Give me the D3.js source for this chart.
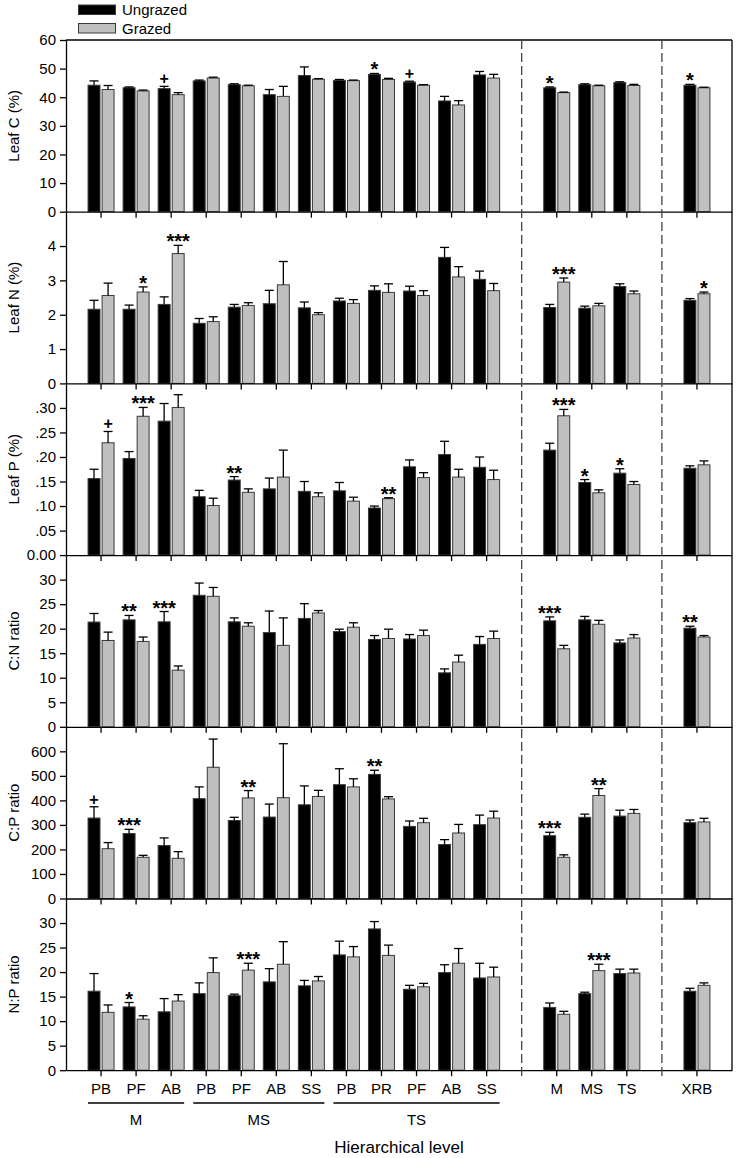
<!DOCTYPE html>
<html>
<head>
<meta charset="utf-8">
<script src="https://cdn.jsdelivr.net/npm/d3@7"></script>
<style>
body { margin: 0; background: #fff; }
svg text { font-family: Arial, "Liberation Sans", sans-serif; fill: #000; }
</style>
</head>
<body>
<svg id="chart" width="736" height="1158"></svg>
<script>
// categories along the x axis
var siteLabels = ['PB','PF','AB','PB','PF','AB','SS','PB','PR','PF','AB','SS','M','MS','TS','XRB'];
var siteGroups = ['M','M','M','MS','MS','MS','MS','TS','TS','TS','TS','TS','L','L','L','R'];
var groupNames = ['M','MS','TS'];

// Leaf C (%)
var leafC_U   = [44.2, 43.3, 43.0, 45.7, 44.4, 40.9, 47.6, 45.9, 48.0, 45.3, 38.7, 47.8, 43.3, 44.4, 45.1, 44.2];
var leafC_Use = [1.5, 0.3, 0.8, 0.3, 0.3, 1.8, 3.0, 0.3, 0.3, 0.3, 1.6, 1.2, 0.3, 0.3, 0.3, 0.3];
var leafC_G   = [42.7, 42.2, 40.9, 46.7, 44.0, 40.3, 46.3, 45.8, 46.2, 44.2, 37.3, 46.7, 41.6, 44.0, 44.1, 43.3];
var leafC_Gse = [1.4, 0.3, 0.7, 0.3, 0.2, 3.5, 0.2, 0.2, 0.4, 0.2, 1.5, 1.3, 0.2, 0.2, 0.4, 0.2];
var leafC_sig = ['', '', '+', '', '', '', '', '', '*', '+', '', '', '*', '', '', '*'];
var leafC_on  = ['', '', 'U', '', '', '', '', '', 'U', 'U', '', '', 'U', '', '', 'U'];

// Leaf N (%)
var leafN_U   = [2.16, 2.16, 2.30, 1.75, 2.22, 2.32, 2.20, 2.40, 2.71, 2.69, 3.67, 3.03, 2.21, 2.19, 2.82, 2.42];
var leafN_Use = [0.26, 0.12, 0.22, 0.14, 0.08, 0.39, 0.17, 0.08, 0.13, 0.14, 0.29, 0.24, 0.09, 0.06, 0.08, 0.05];
var leafN_G   = [2.56, 2.66, 3.78, 1.80, 2.27, 2.87, 2.00, 2.33, 2.65, 2.56, 3.10, 2.70, 2.95, 2.26, 2.61, 2.61];
var leafN_Gse = [0.36, 0.15, 0.24, 0.14, 0.08, 0.68, 0.06, 0.11, 0.25, 0.14, 0.30, 0.21, 0.12, 0.07, 0.08, 0.05];
var leafN_sig = ['', '*', '***', '', '', '', '', '', '', '', '', '', '***', '', '', '*'];
var leafN_on  = ['', 'G', 'G', '', '', '', '', '', '', '', '', '', 'G', '', '', 'G'];

// Leaf P (%)
var leafP_U   = [0.156, 0.197, 0.273, 0.119, 0.153, 0.135, 0.130, 0.131, 0.096, 0.180, 0.205, 0.179, 0.214, 0.148, 0.167, 0.177];
var leafP_Use = [0.019, 0.014, 0.036, 0.013, 0.007, 0.022, 0.020, 0.017, 0.004, 0.014, 0.027, 0.021, 0.014, 0.006, 0.009, 0.005];
var leafP_G   = [0.229, 0.283, 0.301, 0.101, 0.128, 0.159, 0.119, 0.110, 0.115, 0.158, 0.159, 0.154, 0.284, 0.127, 0.144, 0.184];
var leafP_Gse = [0.023, 0.018, 0.026, 0.015, 0.007, 0.055, 0.008, 0.008, 0.002, 0.010, 0.016, 0.019, 0.013, 0.006, 0.006, 0.008];
var leafP_sig = ['+', '***', '', '', '**', '', '', '', '**', '', '', '', '***', '*', '*', ''];
var leafP_on  = ['G', 'G', '', '', 'U', '', '', '', 'G', '', '', '', 'G', 'U', 'U', ''];

// C:N ratio
var cn_U   = [21.35, 21.8, 21.4, 26.8, 21.4, 19.2, 22.1, 19.4, 17.8, 17.9, 11.0, 16.8, 21.6, 21.8, 17.1, 20.1];
var cn_Use = [1.75, 0.9, 2.1, 2.5, 0.8, 4.4, 3.0, 0.5, 0.8, 0.9, 0.8, 1.6, 0.8, 0.7, 0.6, 0.4];
var cn_G   = [17.6, 17.4, 11.55, 26.6, 20.5, 16.6, 23.2, 20.3, 18.0, 18.6, 13.2, 18.0, 15.9, 20.9, 18.1, 18.3];
var cn_Gse = [1.7, 0.9, 0.85, 1.8, 0.7, 5.6, 0.5, 0.9, 1.9, 1.1, 1.4, 1.5, 0.7, 0.8, 0.7, 0.3];
var cn_sig = ['', '**', '***', '', '', '', '', '', '', '', '', '', '***', '', '', '**'];
var cn_on  = ['', 'U', 'U', '', '', '', '', '', '', '', '', '', 'U', '', '', 'U'];

// C:P ratio
var cp_U   = [328, 265, 216, 407, 318, 332, 382, 464, 506, 294, 220, 301, 256, 331, 336, 309];
var cp_Use = [46, 17, 31, 48, 13, 53, 77, 65, 17, 22, 20, 39, 14, 13, 24, 11];
var cp_G   = [203, 168, 164, 535, 410, 411, 416, 455, 406, 309, 267, 328, 168, 420, 347, 312];
var cp_Gse = [25, 8, 27, 115, 30, 220, 25, 33, 9, 18, 35, 28, 10, 28, 16, 15];
var cp_sig = ['+', '***', '', '', '**', '', '', '', '**', '', '', '', '***', '**', '', ''];
var cp_on  = ['U', 'U', '', '', 'G', '', '', '', 'U', '', '', '', 'U', 'G', '', ''];

// N:P ratio
var np_U   = [16.1, 12.9, 11.9, 15.6, 15.2, 18.0, 17.2, 23.5, 28.8, 16.5, 19.9, 18.8, 12.8, 15.6, 19.7, 16.1];
var np_Use = [3.6, 0.9, 2.7, 2.2, 0.3, 2.7, 1.1, 2.8, 1.5, 0.8, 1.6, 3.0, 0.9, 0.3, 0.9, 0.6];
var np_G   = [11.8, 10.4, 14.1, 19.9, 20.4, 21.6, 18.2, 23.1, 23.4, 17.0, 21.8, 19.0, 11.4, 20.3, 19.8, 17.3];
var np_Gse = [1.5, 0.7, 1.3, 3.0, 1.4, 4.6, 0.9, 2.1, 2.1, 0.7, 3.0, 2.0, 0.6, 1.3, 0.8, 0.5];
var np_sig = ['', '*', '', '', '***', '', '', '', '', '', '', '', '', '***', '', ''];
var np_on  = ['', 'U', '', '', 'G', '', '', '', '', '', '', '', '', 'G', '', ''];

// panel titles, y domain maxima and tick labels
var panelTitles = ['Leaf C (%)', 'Leaf N (%)', 'Leaf P (%)', 'C:N ratio', 'C:P ratio', 'N:P ratio'];
var panelMax = [60, 5, 0.35, 35, 700, 35];
var panelTicks = [
    [0, 10, 20, 30, 40, 50, 60],
    [0, 1, 2, 3, 4],
    [0, 0.05, 0.10, 0.15, 0.20, 0.25, 0.30],
    [0, 5, 10, 15, 20, 25, 30],
    [0, 100, 200, 300, 400, 500, 600],
    [0, 5, 10, 15, 20, 25, 30]
];
var panelSeries = [
    [leafC_U, leafC_Use, leafC_G, leafC_Gse, leafC_sig, leafC_on],
    [leafN_U, leafN_Use, leafN_G, leafN_Gse, leafN_sig, leafN_on],
    [leafP_U, leafP_Use, leafP_G, leafP_Gse, leafP_sig, leafP_on],
    [cn_U, cn_Use, cn_G, cn_Gse, cn_sig, cn_on],
    [cp_U, cp_Use, cp_G, cp_Gse, cp_sig, cp_on],
    [np_U, np_Use, np_G, np_Gse, np_sig, np_on]
];
var legendNames = ['Ungrazed', 'Grazed'];

!function() {
    var mLeft = 66, mRight = 732, mTop = 40, panelH = 171.7;
    var mBottom = mTop + panelH * 6;
    var svg = d3.select('#chart');
    var font = 'Arial, "Liberation Sans", sans-serif';

    // x slots: sites, a gap, hierarchy levels, a gap, region
    var keys = [];
    siteLabels.forEach(function(d, i) {
        if (i == 12) keys.push('gap1');
        if (i == 15) keys.push('gap2');
        keys.push(siteGroups[i] + '-' + d);
    });
    var siteKeys = siteLabels.map(function(d, i) { return siteGroups[i] + '-' + d; });

    var x = d3.scaleBand().domain(keys).range([mLeft, mRight]).paddingOuter(0.5).paddingInner(0);
    var cx = function(k) { return x(k) + x.bandwidth() / 2; };
    var xs = d3.scaleBand().domain(['U', 'G']).range([-13, 13]).paddingInner(0.15);
    var fills = { U: '#000', G: '#c0c0c0' };

    panelSeries.forEach(function(s, p) {
        var y = d3.scaleLinear().domain([0, panelMax[p]])
                  .range([mTop + (p + 1) * panelH, mTop + p * panelH]);
        var g = svg.append('g');

        var rows = siteKeys.map(function(k, i) {
            return { k: k, i: i, U: s[0][i], Use: s[1][i], G: s[2][i], Gse: s[3][i], sig: s[4][i], on: s[5][i] };
        });

        ['U', 'G'].forEach(function(t) {
            g.selectAll('rect.b' + t).data(rows).enter()
              .append('rect')
                .attr('class', 'b' + t)
                .attr('x', function(d) { return cx(d.k) + xs(t); })
                .attr('y', function(d) { return y(d[t]); })
                .attr('width', xs.bandwidth())
                .attr('height', function(d) { return y(0) - y(d[t]); })
                .attr('fill', fills[t])
                .attr('stroke', '#3a3a3a')
                .attr('stroke-width', 1);

            var mid = function(d) { return cx(d.k) + xs(t) + xs.bandwidth() / 2; };
            g.selectAll('line.w' + t).data(rows).enter()
              .append('line')
                .attr('class', 'w' + t)
                .attr('x1', mid).attr('x2', mid)
                .attr('y1', function(d) { return y(d[t]); })
                .attr('y2', function(d) { return y(d[t] + d[t + 'se']); })
                .attr('stroke', '#000').attr('stroke-width', 1.3);
            g.selectAll('line.c' + t).data(rows).enter()
              .append('line')
                .attr('class', 'c' + t)
                .attr('x1', function(d) { return mid(d) - 4.5; })
                .attr('x2', function(d) { return mid(d) + 4.5; })
                .attr('y1', function(d) { return y(d[t] + d[t + 'se']); })
                .attr('y2', function(d) { return y(d[t] + d[t + 'se']); })
                .attr('stroke', '#000').attr('stroke-width', 1.3);
        });

        // significance marks
        g.selectAll('text.sig').data(rows.filter(function(d) { return d.sig; })).enter()
          .append('text')
            .attr('class', 'sig')
            .attr('text-anchor', 'middle')
            .attr('font-weight', 'bold')
            .attr('font-size', function(d) { return d.sig == '+' ? 16 : 20; })
            .attr('x', function(d) { return cx(d.k) + xs(d.on) + xs.bandwidth() / 2; })
            .attr('y', function(d) {
                var ey = y(d[d.on] + d[d.on + 'se']);
                return d.sig == '+' ? ey - 2 : ey + 3;
            })
            .text(function(d) { return d.sig; });

        // y axis
        var fmt = p == 2 ? function(v) { return v === 0 ? '0.00' : d3.format('.2f')(v).replace(/^0/, ''); }
                         : d3.format('d');
        var ya = g.append('g').attr('transform', 'translate(' + mLeft + ',0)')
            .call(d3.axisLeft(y).tickValues(panelTicks[p]).tickFormat(fmt).tickSize(6).tickSizeOuter(0).tickPadding(4));
        ya.selectAll('text').attr('font-size', 15).style('font-family', font);
        ya.selectAll('line, path').attr('stroke', '#000').attr('stroke-width', 1.3);

        // bottom axis of panel
        var xa = g.append('g').attr('transform', 'translate(0,' + y(0) + ')')
            .call(d3.axisBottom(x).tickValues(siteKeys).tickSize(6).tickSizeOuter(0)
                    .tickFormat(function(k) { return siteLabels[siteKeys.indexOf(k)]; }).tickPadding(7));
        xa.selectAll('line, path').attr('stroke', '#000').attr('stroke-width', 1.3);
        xa.selectAll('text').attr('font-size', 15).style('font-family', font);
        if (p < 5) xa.selectAll('text').remove();

        g.append('text')
            .attr('transform', 'translate(19,' + (mTop + (p + 0.5) * panelH) + ') rotate(-90)')
            .attr('text-anchor', 'middle')
            .attr('font-size', 15)
            .text(panelTitles[p]);
    });

    // frame: top and right border
    svg.append('line').attr('x1', mLeft).attr('x2', mRight).attr('y1', mTop).attr('y2', mTop)
       .attr('stroke', '#000').attr('stroke-width', 1.3);
    svg.append('line').attr('x1', mRight).attr('x2', mRight).attr('y1', mTop).attr('y2', mBottom)
       .attr('stroke', '#000').attr('stroke-width', 1.3);

    // dashed separators
    ['gap1', 'gap2'].forEach(function(k) {
        svg.append('line')
            .attr('x1', cx(k)).attr('x2', cx(k))
            .attr('y1', mTop).attr('y2', mBottom + 6)
            .attr('stroke', '#444').attr('stroke-width', 1.3)
            .attr('stroke-dasharray', '9,4');
    });

    // group underlines and names
    groupNames.forEach(function(gn) {
        var ks = siteKeys.filter(function(k, i) { return siteGroups[i] == gn; });
        var x0 = cx(ks[0]) - 13, x1 = cx(ks[ks.length - 1]) + 13;
        svg.append('line').attr('x1', x0).attr('x2', x1).attr('y1', 1103).attr('y2', 1103)
           .attr('stroke', '#000').attr('stroke-width', 1.3);
        svg.append('text').attr('x', (cx(ks[0]) + cx(ks[ks.length - 1])) / 2).attr('y', 1125)
           .attr('text-anchor', 'middle').attr('font-size', 15).text(gn);
    });

    svg.append('text').attr('x', (mLeft + mRight) / 2).attr('y', 1153)
       .attr('text-anchor', 'middle').attr('font-size', 17).text('Hierarchical level');

    // legend
    var lg = svg.append('g');
    legendNames.forEach(function(n, i) {
        lg.append('rect').attr('x', 78.5).attr('y', 5 + i * 18.5).attr('width', 37).attr('height', 9.5)
          .attr('fill', i == 0 ? '#000' : '#c0c0c0').attr('stroke', '#3a3a3a').attr('stroke-width', 1);
        lg.append('text').attr('x', 122).attr('y', 15 + i * 18.5).attr('font-size', 15).text(n);
    });
}();
</script>
</body>
</html>
